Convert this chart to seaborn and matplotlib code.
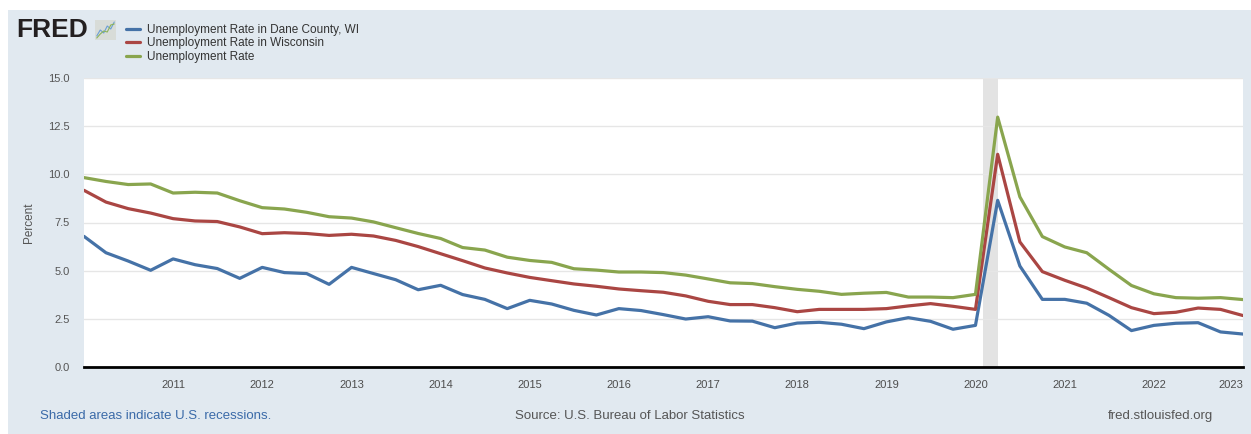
import pandas as pd
import numpy as np
import matplotlib.pyplot as plt
import matplotlib.dates as mdates
from matplotlib.patches import Rectangle
import seaborn as sns

sns.set_style("white")
plt.rcParams['font.family'] = ['Liberation Sans', 'DejaVu Sans']

# quarterly observations, 2010Q1 .. 2023Q1
quarters = pd.date_range("2010-01-01", "2023-01-01", freq="QS")

dane = [6.78, 5.93, 5.50, 5.02,
        5.61, 5.31, 5.11, 4.60,
        5.17, 4.90, 4.85, 4.29,
        5.17, 4.85, 4.53, 4.01,
        4.24, 3.76, 3.51, 3.03,
        3.46, 3.27, 2.94, 2.70,
        3.03, 2.93, 2.72, 2.49,
        2.61, 2.39, 2.38, 2.04,
        2.28, 2.32, 2.22, 1.99,
        2.34, 2.56, 2.37, 1.96,
        2.16, 8.65, 5.24, 3.51,
        3.51, 3.31, 2.68, 1.89,
        2.16, 2.27, 2.30, 1.82,
        1.71]

wisconsin = [9.17, 8.56, 8.22, 7.99,
             7.70, 7.58, 7.55, 7.27,
             6.92, 6.97, 6.93, 6.83,
             6.89, 6.80, 6.57, 6.25,
             5.88, 5.52, 5.14, 4.88,
             4.65, 4.48, 4.31, 4.19,
             4.05, 3.96, 3.88, 3.69,
             3.41, 3.24, 3.24, 3.08,
             2.87, 2.99, 2.99, 2.99,
             3.03, 3.17, 3.29, 3.15,
             2.99, 11.04, 6.49, 4.95,
             4.50, 4.10, 3.60, 3.08,
             2.77, 2.84, 3.06, 2.99,
             2.67]

national = [9.83, 9.63, 9.47, 9.50,
            9.03, 9.07, 9.03, 8.63,
            8.27, 8.20, 8.03, 7.80,
            7.73, 7.53, 7.23, 6.93,
            6.67, 6.20, 6.07, 5.70,
            5.53, 5.43, 5.10, 5.03,
            4.93, 4.93, 4.90, 4.77,
            4.57, 4.37, 4.33, 4.17,
            4.03, 3.93, 3.77, 3.83,
            3.87, 3.63, 3.63, 3.60,
            3.77, 12.97, 8.83, 6.77,
            6.23, 5.93, 5.07, 4.23,
            3.80, 3.60, 3.57, 3.60,
            3.50]

series_names = ["Unemployment Rate in Dane County, WI",
                "Unemployment Rate in Wisconsin",
                "Unemployment Rate"]
series_colors = ["#4572a7", "#aa4643", "#89a54e"]

recession_start = pd.Timestamp("2020-02-01")
recession_end = pd.Timestamp("2020-04-01")

y_ticks = [0.0, 2.5, 5.0, 7.5, 10.0, 12.5, 15.0]
year_ticks = pd.date_range("2011-01-01", "2023-01-01", freq="YS")

df = pd.DataFrame({"date": quarters, series_names[0]: dane,
                   series_names[1]: wisconsin, series_names[2]: national})
long = df.melt(id_vars="date", var_name="series", value_name="rate")

W, H = 1251, 434
fig = plt.figure(figsize=(W / 100, H / 100), dpi=100)
fig.patch.set_facecolor("white")
panel_bg = "#e1e9f0"
fig.patches.append(Rectangle((8 / W, 0), 1 - 8 / W, (H - 10) / H,
                             transform=fig.transFigure, facecolor=panel_bg,
                             edgecolor="none", zorder=-10))

ax = fig.add_axes([84 / W, (H - 367) / H, 1159 / W, 289 / H])
ax.set_facecolor("white")

ax.axvspan(recession_start, recession_end, color="#e3e3e3", lw=0, zorder=1)
for v in y_ticks[1:]:
    ax.axhline(v, color="#e6e6e6", lw=1, zorder=1)

sns.lineplot(data=long, x="date", y="rate", hue="series", palette=series_colors,
             hue_order=series_names, linewidth=2.3, ax=ax, legend=False, zorder=3)

ax.set_xlim(quarters[0], quarters[-1])
ax.set_ylim(0, 15)
ax.set_yticks(y_ticks)
ax.set_yticklabels([f"{v:.1f}" for v in y_ticks])
ax.set_xticks(year_ticks)
ax.xaxis.set_major_formatter(mdates.DateFormatter("%Y"))
ax.tick_params(axis="x", length=8, width=1, color="#ccd6eb", labelsize=8,
               labelcolor="#4d4d4d", pad=1.5)
ax.tick_params(axis="y", length=0, labelsize=8, labelcolor="#555555", pad=10.5)
ax.set_xlabel("")
ax.set_ylabel("Percent", fontsize=8.5, color="#555555", labelpad=9)
for s in ["top", "right", "left"]:
    ax.spines[s].set_visible(False)
ax.spines["bottom"].set_color("black")
ax.spines["bottom"].set_linewidth(2)
ax.spines["bottom"].set_zorder(4)
fig.canvas.draw()
ax.get_xticklabels()[-1].set_horizontalalignment("right")

# legend
handles = [plt.Line2D([], [], color=c, lw=2.3) for c in series_colors]
fig.legend(handles, series_names, loc="upper left",
           bbox_to_anchor=(121 / W, 1 - 19 / H), frameon=False,
           fontsize=8.5, handlelength=1.25, handletextpad=0.55,
           labelspacing=0.13, borderaxespad=0, labelcolor="#333333")

# logo
fig.text(16 / W, 1 - 30 / H, "FRED", fontsize=19, fontweight="bold",
         color="#231f20", va="center", ha="left")
icon_x = [0, 1, 2, 3, 4, 5]
icon_a = [0.2, 0.5, 0.35, 0.7, 0.55, 0.9]
icon_b = [0.1, 0.3, 0.45, 0.4, 0.75, 0.8]
icon = fig.add_axes([95 / W, 1 - 40 / H, 21 / W, 20 / H])
icon.set_facecolor("#d8dcd8")
icon.plot(icon_x, icon_a, color="#6b9fd6", lw=0.8)
icon.plot(icon_x, icon_b, color="#8bb35a", lw=0.8)
icon.set_xlim(-0.5, 5.5)
icon.set_ylim(0, 1)
icon.set_xticks([])
icon.set_yticks([])
for s in icon.spines.values():
    s.set_visible(False)

# footer
fig.text(40 / W, 1 - 416 / H, "Shaded areas indicate U.S. recessions.",
         fontsize=9.5, color="#3a6aa8", va="center", ha="left")
fig.text(630 / W, 1 - 416 / H, "Source: U.S. Bureau of Labor Statistics",
         fontsize=9.5, color="#555555", va="center", ha="center")
fig.text(1213 / W, 1 - 416 / H, "fred.stlouisfed.org",
         fontsize=9.5, color="#555555", va="center", ha="right")

fig.savefig("out.png", dpi=100, facecolor=fig.get_facecolor())
